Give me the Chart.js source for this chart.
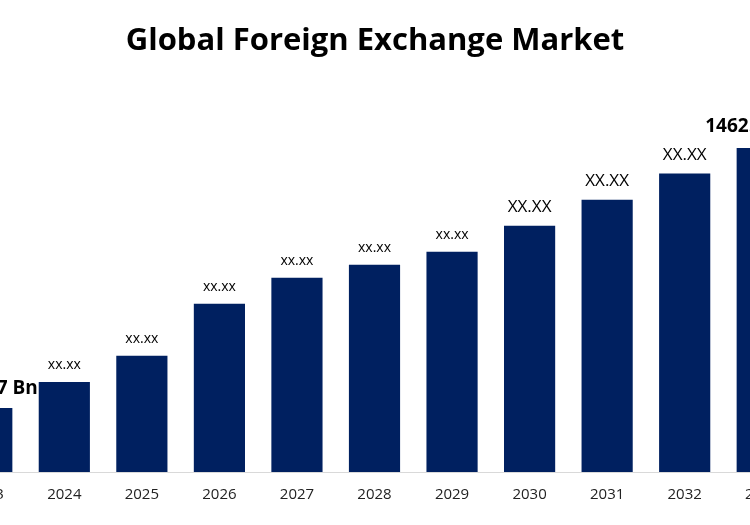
<!DOCTYPE html><html><head><meta charset="utf-8">
<script src="https://cdn.jsdelivr.net/npm/chart.js@4"></script>
<style>html,body{margin:0;padding:0;background:#fff;overflow:hidden;width:750px;height:525px}
#wrap{position:absolute;left:-52px;top:0;width:853px;height:525px}
h1{position:absolute;left:0;top:17px;width:750px;text-align:center;margin:0;font:bold 31px "Open Sans",sans-serif;color:#000;z-index:2}</style>
</head><body><h1>Global Foreign Exchange Market</h1><div id="wrap"><canvas id="c" width="853" height="525"></canvas></div>
<script>
const categories=["2023","2024","2025","2026","2027","2028","2029","2030","2031","2032","2033"];
const values=[289,406,524,759,876,935,993,1111,1228,1346,1462];
const labels=["XX.7 Bn","xx.xx","xx.xx","xx.xx","xx.xx","xx.xx","xx.xx","XX.XX","XX.XX","XX.XX","1462.XX Bn"];
const lblPlugin={id:'lbl',afterDatasetsDraw(ch){const ctx=ch.ctx;const m=ch.getDatasetMeta(0);
m.data.forEach((b,i)=>{let f;if(i===0||i===10)f='bold 19px "Open Sans"';else if(i>=7)f='17px "Open Sans"';else f='14px "Open Sans"';
ctx.save();ctx.font=f;ctx.fillStyle='#000';ctx.textAlign='center';ctx.textBaseline='bottom';
let x=b.x;if(i===0){ctx.textAlign='right';x=b.x+51;}if(i===10){ctx.textAlign='left';x=b.x-57;}ctx.fillText(labels[i],x,b.y-(i===10?12:10));ctx.restore();});}};
new Chart(document.getElementById('c'),{type:'bar',data:{labels:categories,datasets:[{data:values,backgroundColor:'#002060',categoryPercentage:1,barPercentage:0.66}]},
options:{responsive:false,animation:false,layout:{padding:{top:100,left:0,right:0,bottom:15}},
plugins:{legend:{display:false},tooltip:{enabled:false}},
scales:{y:{display:false,min:0,max:1678},x:{grid:{display:false},border:{color:'#d9d9d9',width:1},ticks:{color:'#222',font:{size:15,family:'"Open Sans"'},padding:6}}}},plugins:[lblPlugin]});
</script></body></html>
